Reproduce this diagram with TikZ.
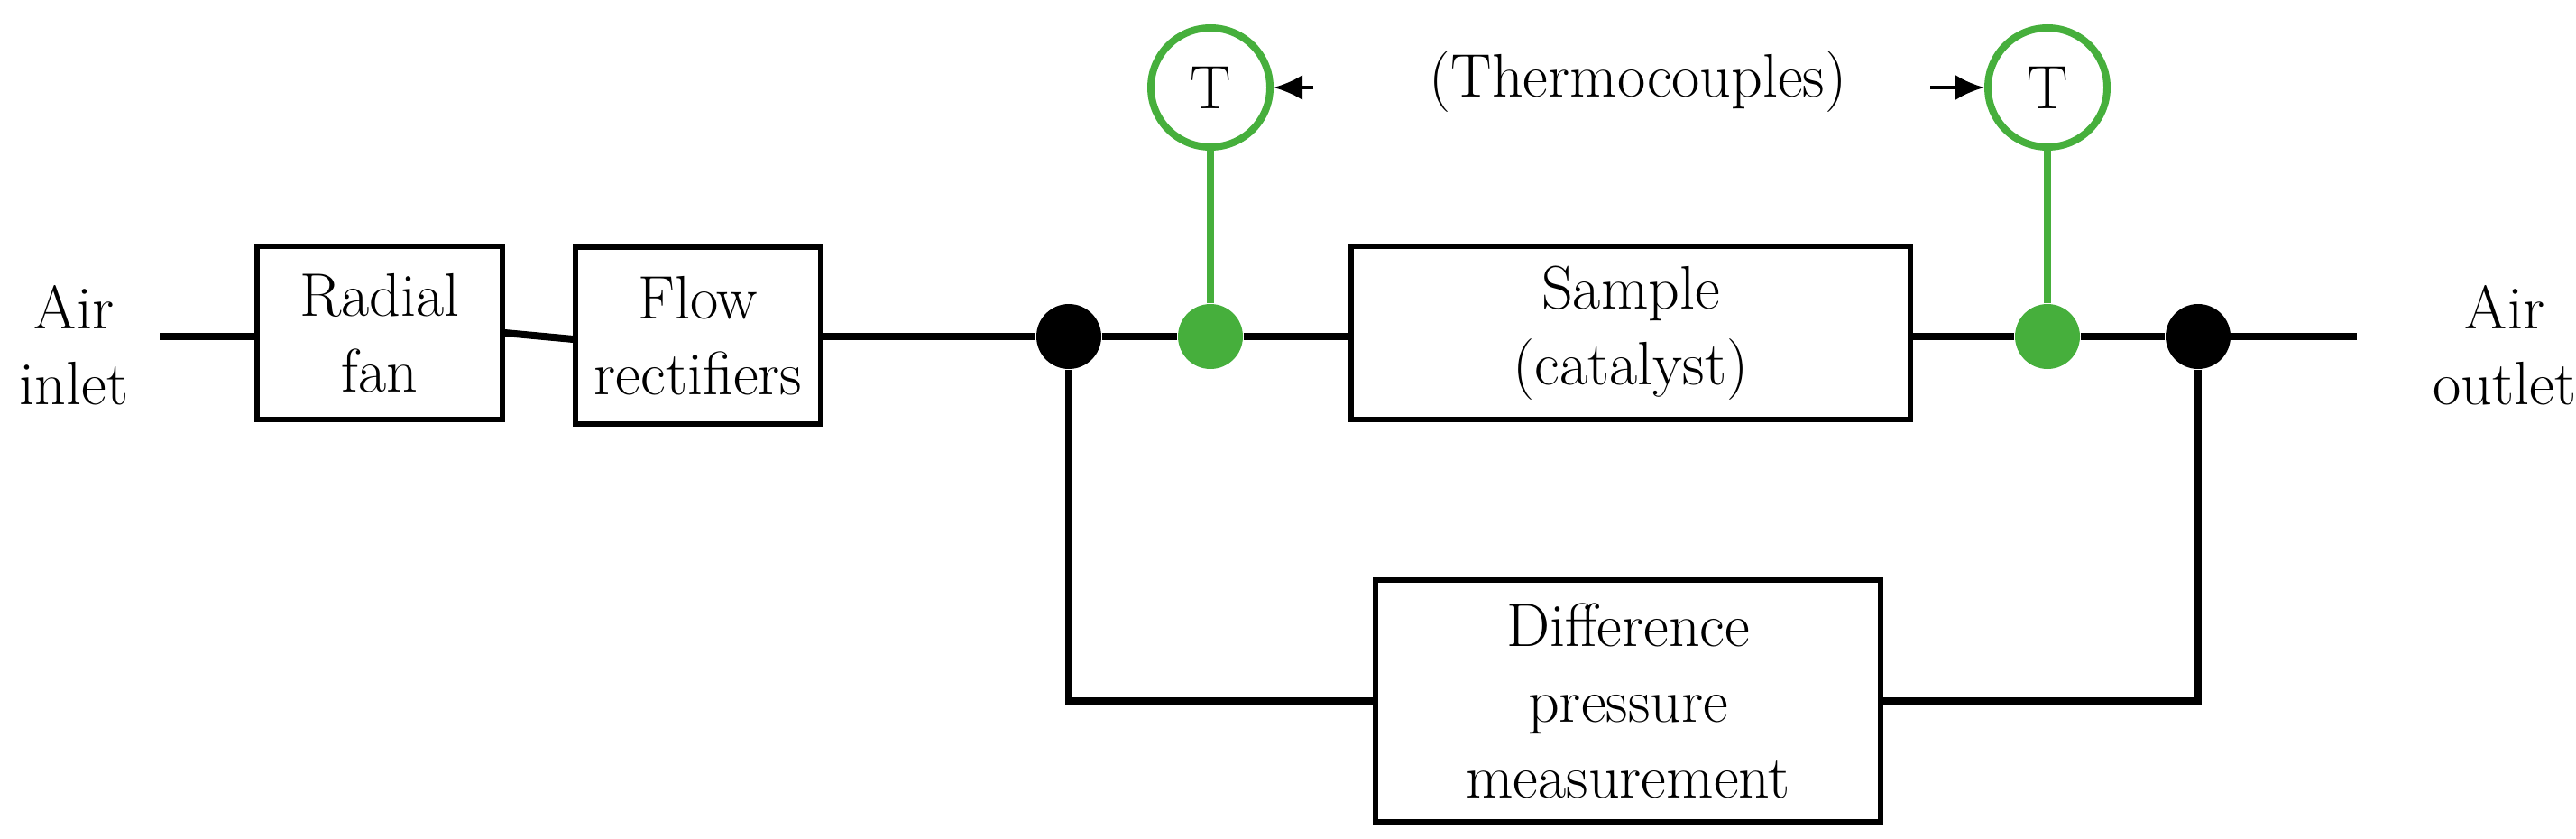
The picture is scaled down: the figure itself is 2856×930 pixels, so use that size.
\documentclass[tikz,border=0pt]{standalone}
\usetikzlibrary{positioning,arrows.meta}
\definecolor{tcgreen}{RGB}{70,175,60}
\begin{document}
\begin{tikzpicture}[x=0.25pt,y=-0.25pt,
  blk/.style={draw=black,line width=1.3pt,align=center,font=\fontsize{17}{21}\selectfont,inner sep=0pt},
  pipe/.style={line width=2pt},
  sensor/.style={line width=2pt,draw=tcgreen},
  jct/.style={circle,fill=black,minimum size=18pt,inner sep=0pt},
  tdot/.style={circle,fill=tcgreen,minimum size=18pt,inner sep=0pt},
  tc/.style={circle,draw=tcgreen,line width=2pt,fill=white,minimum size=33pt,inner sep=0pt,font=\fontsize{17}{21}\selectfont},
  lbl/.style={align=center,font=\fontsize{17}{21}\selectfont}]
\useasboundingbox (0,0) rectangle (2856,930);

% boxes
\node[blk,minimum width=68pt,minimum height=48pt] (fan) at (421,369) {Radial\\fan};
\node[blk,minimum width=68pt,minimum height=49pt] (rect) at (774,372) {Flow\\rectifiers};
\node[blk,minimum width=155pt,minimum height=48pt] (sample) at (1808,369) {Sample\\(catalyst)};
\node[blk,minimum width=140pt,minimum height=67pt] (dp) at (1805,777) {Difference\\pressure\\measurement};

% labels
\node[lbl] (inlet) at (82,383) {Air\\inlet};
\node[lbl] (outlet) at (2777,383) {Air\\outlet};
\coordinate (inend) at (177,373);
\coordinate (outend) at (2613,373);

% junctions
\node[jct] (j1) at (1185,373) {};
\node[jct] (j2) at (2437,373) {};
\node[tdot] (t1) at (1342,373) {};
\node[tdot] (t2) at (2270,373) {};

% main line
\draw[pipe] (inend) -- (inend -| fan.west);
\draw[pipe] (fan.east |- 0,369) -- (rect.west |- 0,376);
\draw[pipe] (rect.east |- j1) -- (j1) -- (t1) -- (sample.west |- t1);
\draw[pipe] (sample.east |- t2) -- (t2) -- (j2) -- (outend);

% bypass
\draw[pipe] (j1) |- (dp.west);
\draw[pipe] (j2) |- (dp.east);

% thermocouples
\node[tc] (T1) at (1342,97) {T};
\node[tc] (T2) at (2270,97) {T};
\draw[sensor] (T1) -- (t1);
\draw[sensor] (T2) -- (t2);
\node[lbl] (thermo) at (1816,91) {(Thermocouples)};
\coordinate (a1) at ([xshift=11pt]T1.east);
\coordinate (a2) at ([xshift=-15pt]T2.west);
\draw[-{Latex[length=8pt,width=7pt]},line width=1pt] (a1) -- (T1.east);
\draw[-{Latex[length=8pt,width=7pt]},line width=1pt] (a2) -- (T2.west);
\end{tikzpicture}
\end{document}
